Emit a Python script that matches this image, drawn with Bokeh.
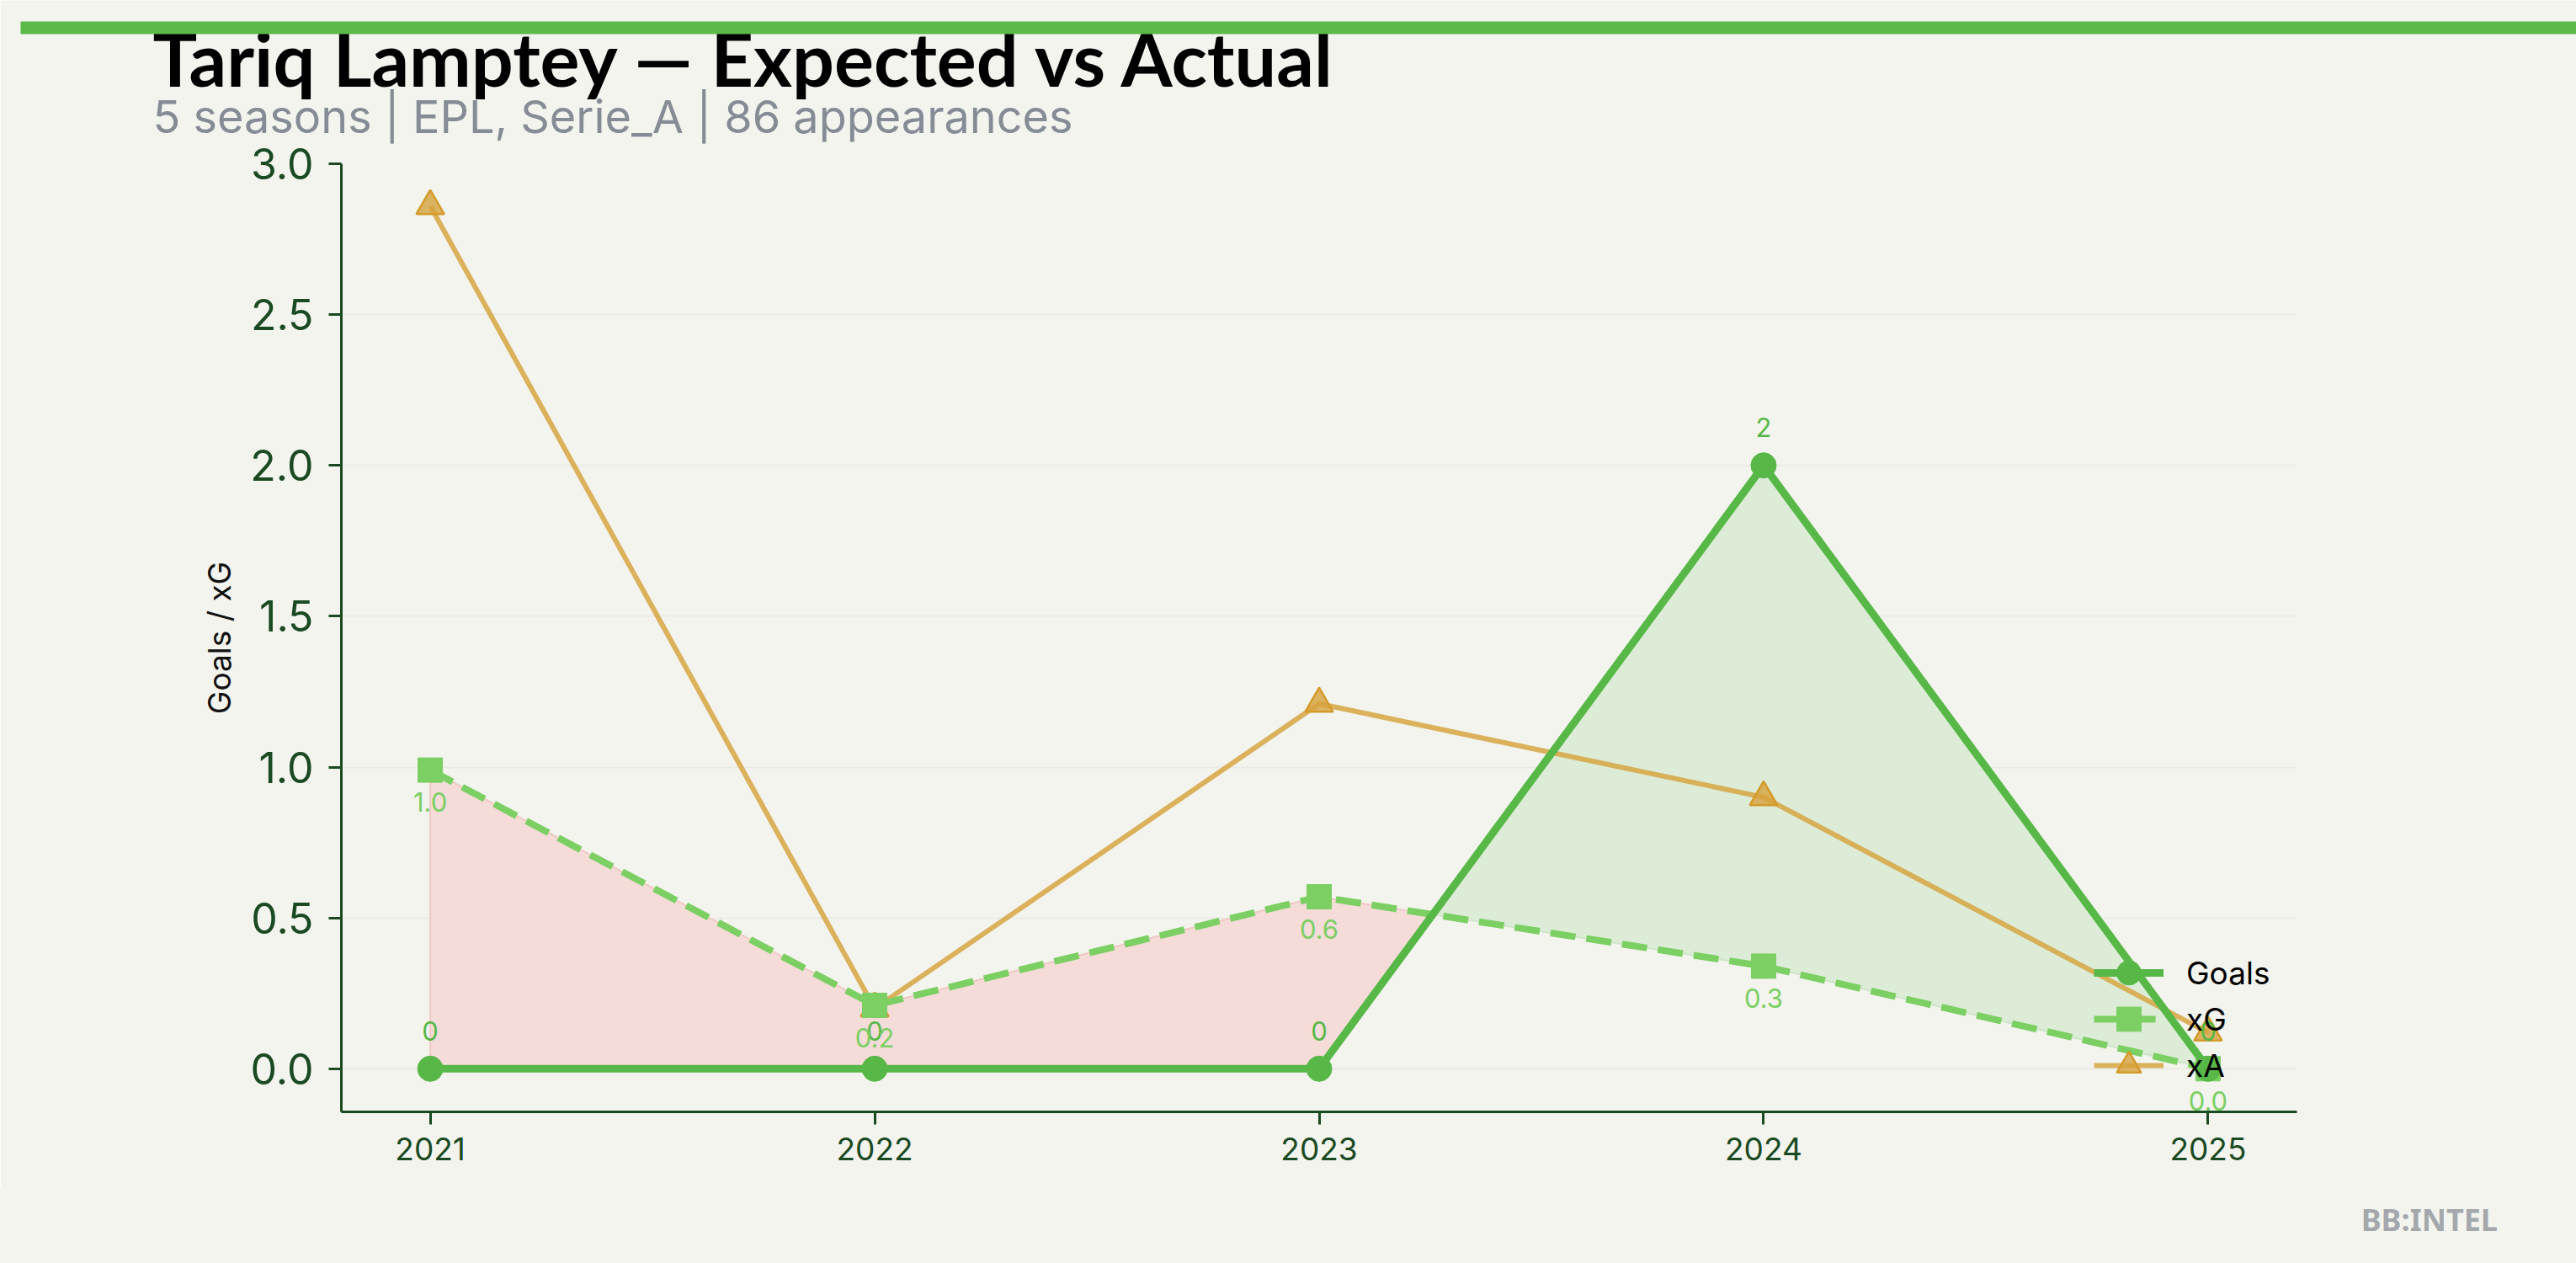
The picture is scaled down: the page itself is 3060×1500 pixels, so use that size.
from bokeh.plotting import figure
from bokeh.layouts import column
from bokeh.models import (Range1d, FixedTicker, Legend, LegendItem, Div, Title,
                          ColumnDataSource, CustomJSTickFormatter)
from bokeh.core.properties import value
from bokeh.embed import file_html
from bokeh.resources import INLINE

# ---------------- data ----------------
seasons = [2021, 2022, 2023, 2024, 2025]
goals = [0, 0, 0, 2, 0]
xg = [0.99, 0.21, 0.57, 0.34, 0.0]
xa = [2.86, 0.20, 1.21, 0.90, 0.12]
goal_labels = ["0", "0", "0", "2", "0"]
xg_labels = ["1.0", "0.2", "0.6", "0.3", "0.0"]
y_ticks = [0.0, 0.5, 1.0, 1.5, 2.0, 2.5, 3.0]
series_names = ["Goals", "xG", "xA"]

title_text = "Tariq Lamptey \u2014 Expected vs Actual"
subtitle_text = "5 seasons | EPL, Serie_A | 86 appearances"
brand_text = "BB:INTEL"

# ---------------- colours ----------------
BG = "#f3f4ee"
GOALS_C = "#57b847"
XG_C = "#7bcf63"
XA_C = "#d6a23c"
AXIS_C = "#1a4a22"
RED_FILL = "#f5dcd8"
GREEN_FILL = "#dcecd7"
BAR_C = "#5cb94a"

W = 3060
P_H, FTR_H = 1410, 90
FL, FR = 405, 2728        # frame left / right (px)
FT, FB = 194, 1320        # frame top / bottom (px)

# ---------------- main plot ----------------
p = figure(width=W, height=P_H, output_backend="svg", toolbar_location=None,
           x_range=Range1d(2020.8, 2025.2), y_range=Range1d(-0.143, 3.0),
           min_border_left=FL, min_border_right=W - FR,
           min_border_top=FT, min_border_bottom=P_H - FB)
p.background_fill_color = BG
p.border_fill_color = BG
p.outline_line_color = None
p.title.visible = False

# header: subtitle (closest to the frame), title, then the green accent bar on top
p.add_layout(Title(text=subtitle_text, align="left", offset=181 - FL,
                   vertical_align="bottom", standoff=48,
                   text_font="Inter", text_font_size="54px",
                   text_font_style="normal", text_color="#868c96"), "above")
p.add_layout(Title(text=title_text, align="left", offset=181 - FL,
                   vertical_align="bottom", standoff=-85,
                   text_font="Lato", text_font_size="88px",
                   text_font_style="bold", text_color="#000000"), "above")
p.add_layout(Title(text="\u00a0" * 758, align="left", offset=24 - FL,
                   vertical_align="top", standoff=28,
                   text_font="DejaVu Sans", text_font_size="12.5px",
                   text_color=BAR_C, background_fill_color=BAR_C,
                   background_fill_alpha=1.0), "above")

# fill between goals and xG, split at the crossing points
pts = []
for i in range(len(seasons)):
    pts.append((seasons[i], goals[i], xg[i]))
    if i < len(seasons) - 1:
        d0 = goals[i] - xg[i]
        d1 = goals[i + 1] - xg[i + 1]
        if d0 * d1 < 0:
            t = d0 / (d0 - d1)
            xc = seasons[i] + t * (seasons[i + 1] - seasons[i])
            yc = goals[i] + t * (goals[i + 1] - goals[i])
            pts.append((xc, yc, yc))


def polys(cond, top_is_goals):
    out, cur = [], []
    for (x, a, b) in pts:
        if cond(a - b):
            cur.append((x, a, b))
        else:
            if len(cur) >= 2:
                out.append(cur)
            cur = []
    if len(cur) >= 2:
        out.append(cur)
    xs_l, ys_l = [], []
    for run in out:
        xs = [r[0] for r in run]
        tops = [r[1] if top_is_goals else r[2] for r in run]
        bots = [r[2] if top_is_goals else r[1] for r in run]
        xs_l.append(xs + xs[::-1])
        ys_l.append(tops + bots[::-1])
    return xs_l, ys_l


rx, ry = polys(lambda d: d <= 1e-12, False)
gx, gy = polys(lambda d: d >= -1e-12, True)
p.patches(rx, ry, fill_color=RED_FILL, line_color="#f0c9c4", line_width=2)
p.patches(gx, gy, fill_color=GREEN_FILL, line_color="#cfe6c9", line_width=2)

src = ColumnDataSource(dict(x=seasons, goals=goals, xg=xg, xa=xa,
                            gl=goal_labels, xl=xg_labels))

xa_line = p.line("x", "xa", source=src, line_color=XA_C, line_width=6, line_alpha=0.82)
xa_pts = p.scatter("x", "xa", source=src, marker="triangle", size=33,
                   fill_color=XA_C, fill_alpha=0.8, line_color="#d49a2a", line_width=2.5)

xg_line = p.line("x", "xg", source=src, line_color=XG_C, line_width=8,
                 line_dash="30 13")
xg_pts = p.scatter("x", "xg", source=src, marker="square", size=29,
                   fill_color=XG_C, line_color=XG_C)

g_line = p.line("x", "goals", source=src, line_color=GOALS_C, line_width=9)
g_pts = p.scatter("x", "goals", source=src, marker="circle", size=30,
                  fill_color=GOALS_C, line_color=GOALS_C)

p.text("x", "goals", text="gl", source=src, text_font=value("Inter"),
       text_font_size="31px", text_color=GOALS_C, text_align="center",
       text_baseline="middle", y_offset=-45)
p.text("x", "xg", text="xl", source=src, text_font=value("Inter"),
       text_font_size="31px", text_color=XG_C, text_align="center",
       text_baseline="middle", y_offset=38)

# axes
p.xaxis.ticker = FixedTicker(ticks=seasons)
p.xaxis.formatter = CustomJSTickFormatter(code="return tick.toFixed(0);")
p.yaxis.ticker = FixedTicker(ticks=y_ticks)
p.yaxis.formatter = CustomJSTickFormatter(code="return tick.toFixed(1);")

for ax in (p.xaxis[0], p.yaxis[0]):
    ax.axis_line_color = AXIS_C
    ax.axis_line_width = 3
    ax.major_tick_line_color = AXIS_C
    ax.major_tick_line_width = 3
    ax.major_tick_out = 15
    ax.major_tick_in = 0
    ax.minor_tick_line_color = None
    ax.major_label_text_color = AXIS_C
    ax.major_label_text_font = "Inter"

p.xaxis.major_label_text_font_size = "37px"
p.xaxis.major_label_standoff = 15
p.yaxis.major_label_text_font_size = "50px"
p.yaxis.major_label_standoff = 18

p.yaxis.axis_label = "Goals / xG"
p.yaxis.axis_label_text_font = "Inter"
p.yaxis.axis_label_text_font_size = "37px"
p.yaxis.axis_label_text_font_style = "normal"
p.yaxis.axis_label_text_color = "#111111"
p.yaxis.axis_label_standoff = 11

p.xgrid.grid_line_color = None
p.ygrid.grid_line_color = "#eaebe4"
p.ygrid.grid_line_width = 2

# one single-entry legend per series, each row placed where the reference has it
legend_rows = [(series_names[0], [g_line, g_pts], 129),
               (series_names[1], [xg_line, xg_pts], 74),
               (series_names[2], [xa_line, xa_pts], 19)]
for name, rends, vy in legend_rows:
    lg = Legend(items=[LegendItem(label=name, renderers=rends)], location=(2082, vy))
    lg.border_line_color = None
    lg.background_fill_alpha = 0
    lg.padding = 0
    lg.margin = 0
    lg.glyph_width = 83
    lg.glyph_height = 72
    lg.label_height = 72
    lg.spacing = 0
    lg.label_standoff = 27
    lg.label_text_font = "Inter"
    lg.label_text_font_size = "37px"
    lg.label_text_color = "#000000"
    lg.label_text_baseline = "middle"
    p.add_layout(lg)

# ---------------- footer (html) ----------------
ftr_html = (
    f'<div style="position:relative;width:{W}px;height:{FTR_H}px;background:{BG};'
    f'margin:0;padding:0;overflow:hidden;">'
    f'<div style="position:absolute;right:93px;top:14px;white-space:nowrap;'
    f'font-family:\'Noto Sans\';font-weight:700;font-size:36px;line-height:normal;'
    f'color:#a4a8ad;">{brand_text}</div>'
    f'</div>'
)
ftr = Div(text=ftr_html, width=W, height=FTR_H, margin=0)

page = column(p, ftr, spacing=0)
open("out.html", "w").write(file_html(page, INLINE))
